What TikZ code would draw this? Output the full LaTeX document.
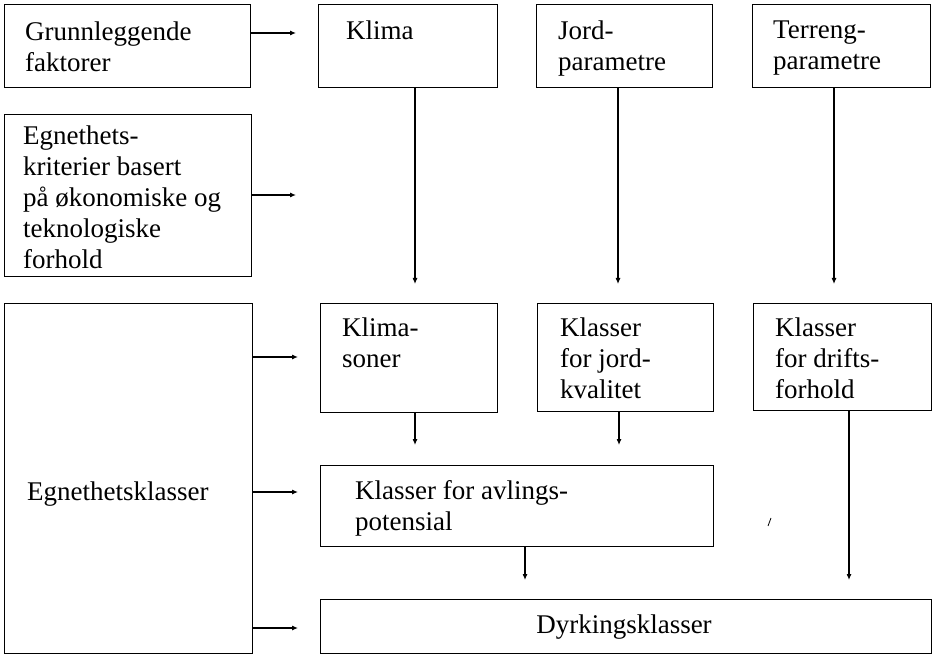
\documentclass[tikz,border=0pt]{standalone}
\usepackage{fontspec}
\setmainfont{Liberation Serif}
\usetikzlibrary{arrows.meta}
\begin{document}
\begin{tikzpicture}[x=1pt,y=-1pt,
  box/.style={draw, line width=1.4pt, rectangle, inner sep=0pt, anchor=north west},
  lbl/.style={anchor=north west, align=left, inner sep=0pt, font=\fontsize{27}{31}\selectfont},
  arr/.style={line width=1.1pt, -{Latex[length=6pt,width=5pt]}}]
\useasboundingbox (0,0) rectangle (935,655);
% boxes
\node[box, minimum width=246pt, minimum height=83pt] (grunn) at (4,4) {};
\node[box, minimum width=247pt, minimum height=162pt] (egncrit) at (4,114) {};
\node[box, minimum width=248pt, minimum height=350pt] (egnkl) at (4,303) {};
\node[box, minimum width=179pt, minimum height=83pt] (klima) at (318,4) {};
\node[box, minimum width=176pt, minimum height=83pt] (jord) at (536,4) {};
\node[box, minimum width=178pt, minimum height=83pt] (terreng) at (752,4) {};
\node[box, minimum width=177pt, minimum height=109pt] (klsoner) at (320,303) {};
\node[box, minimum width=176pt, minimum height=108pt] (kljord) at (537,303) {};
\node[box, minimum width=178pt, minimum height=107pt] (kldrift) at (753,303) {};
\node[box, minimum width=393pt, minimum height=81pt] (avl) at (320,465) {};
\node[box, minimum width=611pt, minimum height=54pt] (dyrk) at (320,599) {};
% texts
\node[lbl] (tgrunn) at (25,22) {Grunnleggende\\faktorer};
\node[lbl] (tegncrit) at (23,126) {Egnethets-\\kriterier basert\\på økonomiske og\\teknologiske\\forhold};
\node[lbl] (tegnkl) at (27,482) {Egnethetsklasser};
\node[lbl] (tklima) at (346,21) {Klima};
\node[lbl] (tjord) at (558,21) {Jord-\\parametre};
\node[lbl] (tterreng) at (773,21) {Terreng-\\parametre};
\node[lbl] (tklsoner) at (342,318) {Klima-\\soner};
\node[lbl] (tkljord) at (560,318) {Klasser\\for jord-\\kvalitet};
\node[lbl] (tkldrift) at (775,318) {Klasser\\for drifts-\\forhold};
\node[lbl] (tavl) at (355,480) {Klasser for avlings-\\potensial};
\node[anchor=base, inner sep=0pt, font=\fontsize{27}{31}\selectfont] (tdyrk) at (624,633) {Dyrkingsklasser};
% arrow end points
\coordinate (e1) at (296,33);
\coordinate (e2) at (296,195);
\coordinate (e3) at (298,357);
\coordinate (e4) at (298,492);
\coordinate (e5) at (298,628);
\coordinate (d1) at (415,284);
\coordinate (d2) at (618,284);
\coordinate (d3) at (834,284);
\coordinate (d4) at (415,445);
\coordinate (d5) at (619,445);
\coordinate (d6) at (525,580);
\coordinate (d7) at (849,580);
% arrows
\draw[arr] (grunn.east |- e1) -- (e1);
\draw[arr] (egncrit.east |- e2) -- (e2);
\draw[arr] (egnkl.east |- e3) -- (e3);
\draw[arr] (egnkl.east |- e4) -- (e4);
\draw[arr] (egnkl.east |- e5) -- (e5);
\draw[arr] (klima.south -| d1) -- (d1);
\draw[arr] (jord.south -| d2) -- (d2);
\draw[arr] (terreng.south -| d3) -- (d3);
\draw[arr] (klsoner.south -| d4) -- (d4);
\draw[arr] (kljord.south -| d5) -- (d5);
\draw[arr] (avl.south -| d6) -- (d6);
\draw[arr] (kldrift.south -| d7) -- (d7);
% stray mark
\draw[line width=0.8pt] (768,526) -- (771,518);
\end{tikzpicture}
\end{document}
